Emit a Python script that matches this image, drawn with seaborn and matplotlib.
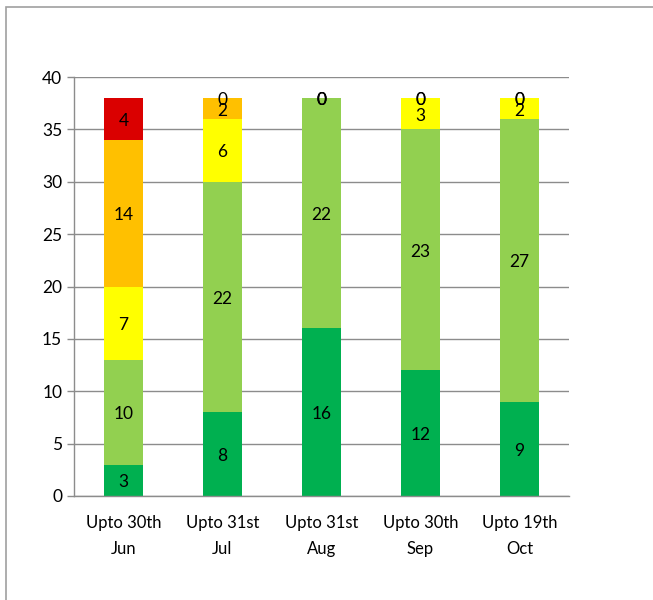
import matplotlib
matplotlib.use("Agg")
import matplotlib.pyplot as plt
import numpy as np
import pandas as pd
import seaborn as sns
from matplotlib.patches import Rectangle

categories = ["Upto 30th\nJun", "Upto 31st\nJul", "Upto 31st\nAug", "Upto 30th\nSep", "Upto 19th\nOct"]
dark_green = [3, 8, 16, 12, 9]
light_green = [10, 22, 22, 23, 27]
yellow = [7, 6, 0, 3, 2]
orange = [14, 2, 0, 0, 0]
red = [4, 0, 0, 0, 0]

series = [dark_green, light_green, yellow, orange, red]
colours = ["#00B050", "#92D050", "#FFFF00", "#FFC000", "#DA0000"]

sns.set_theme(style="white")
plt.rcParams["font.family"] = ["Lato", "DejaVu Sans"]

fig = plt.figure(figsize=(6.53, 6.00), dpi=100)
ax = fig.add_axes([74 / 653, 1 - 496 / 600, (569 - 74) / 653, (496 - 77) / 600])

# frame around the whole chart (right and bottom edges run off the canvas)
fig.patches.append(Rectangle((6 / 653, -0.02), 1.05, 1.02 - 7 / 600, transform=fig.transFigure,
                             fill=False, edgecolor="#a0a0a0", linewidth=1.2))

vals = np.array(series, dtype=float)
tops = np.cumsum(vals, axis=0)

# stacked: draw tallest cumulative first, then overlay lower ones
for k in range(len(series) - 1, -1, -1):
    df = pd.DataFrame({"cat": categories, "val": tops[k]})
    sns.barplot(data=df, x="cat", y="val", color=colours[k], width=0.4,
                saturation=1, linewidth=0, ax=ax)

for k in range(len(series)):
    bottoms = tops[k] - vals[k]
    for i in range(len(categories)):
        ax.text(i, bottoms[i] + vals[k][i] / 2 - 0.2, f"{int(vals[k][i])}",
                ha="center", va="center", fontsize=12.5, color="black")

ax.set_ylim(0, 40)
ax.set_xlim(-0.5, len(categories) - 0.5)
ax.set_yticks(np.arange(0, 41, 5))
ax.yaxis.grid(True, color="#8c8c8c", linewidth=1)
ax.set_axisbelow(True)
ax.set_xlabel("")
ax.set_ylabel("")

for side in ["top", "right"]:
    ax.spines[side].set_visible(False)
for side in ["left", "bottom"]:
    ax.spines[side].set_color("#8c8c8c")
    ax.spines[side].set_linewidth(1)

ax.set_xticks(np.arange(-0.5, len(categories), 1), minor=True)
ax.tick_params(axis="x", which="major", length=0, labelsize=12, pad=14, colors="black")
ax.tick_params(axis="x", which="minor", length=5, color="#8c8c8c", width=1, direction="out")
ax.tick_params(axis="y", length=5, color="#8c8c8c", width=1, direction="out",
               labelsize=12.5, labelcolor="black", left=True)
for lbl in ax.get_xticklabels():
    lbl.set_linespacing(1.7)

fig.savefig("out.png", dpi=100)
